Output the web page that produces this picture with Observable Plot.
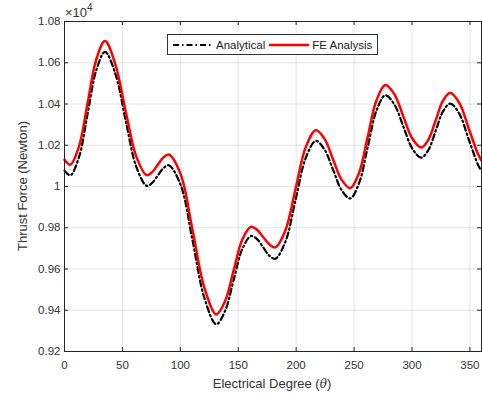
<!DOCTYPE html>
<html><head><meta charset="utf-8">
<script src="https://cdn.jsdelivr.net/npm/d3@7"></script>
<script src="https://cdn.jsdelivr.net/npm/@observablehq/plot@0.6"></script>
<style>
body{margin:0;background:#fff;font-family:"Liberation Sans",Arial,sans-serif;color:#262626}
#wrap{position:relative;width:482px;height:396px;overflow:hidden}
.lbl{position:absolute;white-space:nowrap;font-size:13px;color:#333}
#xl{left:272px;top:376px;transform:translateX(-50%)}
#yl{left:22px;top:186px;transform:translate(-50%,-50%) rotate(-90deg)}
#exp{left:65px;top:3px;font-size:13px}
#exp sup{font-size:10px;position:relative;top:-1px}
#legend{position:absolute;left:167px;top:34px;width:211px;height:21px;border:1px solid #333;background:#fff;font-size:11.5px;display:flex;align-items:center;box-sizing:border-box;padding-left:5px;color:#222}
#legend svg{display:block}
#legend span{margin:0 4px 0 3px}
</style></head>
<body>
<div id="wrap">
  <div id="chart"></div>
  <div class="lbl" id="exp">×10<sup>4</sup></div>
  <div class="lbl" id="yl">Thrust Force (Newton)</div>
  <div class="lbl" id="xl">Electrical Degree (<i style="font-family:'DejaVu Serif',serif;font-size:12px">θ</i>)</div>
  <div id="legend">
    <svg width="40" height="10"><line x1="0" y1="5" x2="40" y2="5" stroke="#000" stroke-width="2.2" stroke-dasharray="6,3,1.5,3"/></svg><span>Analytical</span>
    <svg width="40" height="10"><line x1="0" y1="5" x2="40" y2="5" stroke="#ff0000" stroke-width="2.5"/></svg><span>FE Analysis</span>
  </div>
</div>
<script>
const seriesNames = ["Analytical", "FE Analysis"];
const degrees = [0,5,12.5,20,27.5,35,44,53,62,71,75.75,80.5,85.25,90,100.25,110.5,120.75,131,138.5,146,153.5,161,166.25,171.5,176.75,182,190.75,199.5,208.25,217,224.4,231.8,239.2,246.6,254.2,261.8,269.4,277,284.75,292.5,300.25,308,314.25,320.5,326.75,333,341,349,357,360];
const analytical = [10077,10054,10142,10354,10565,10653,10545,10315,10095,10003,10018,10053,10088,10103,10008,9740,9460,9332,9395,9546,9697,9760,9745,9705,9665,9650,9733,9936,10138,10221,10180,10082,9983,9942,10015,10192,10369,10442,10398,10291,10184,10140,10178,10271,10364,10402,10351,10228,10105,10075];
const feAnalysis = [10130,10106,10194,10406,10617,10705,10590,10360,10145,10055,10070,10105,10140,10155,10060,9790,9510,9380,9442,9592,9743,9805,9790,9755,9720,9705,9788,9989,10190,10273,10232,10132,10033,9992,10065,10242,10419,10492,10448,10340,10233,10189,10228,10322,10416,10455,10404,10281,10157,10125];
const xTicks = [0,50,100,150,200,250,300,350];
const yTicks = [9200,9400,9600,9800,10000,10200,10400,10600,10800];

const rows = degrees.map((d,i)=>({deg:d, analytical:analytical[i], fe:feAnalysis[i]}));
const fmt = d => String(+(d/1e4).toFixed(2));
const ink = "#262626";
const plotW = 482-64-1, plotH = 396-21-45;

const chart = Plot.plot({
  width: 482, height: 396,
  marginLeft: 64, marginRight: 1, marginTop: 21, marginBottom: 45,
  style: {fontFamily: "'Liberation Sans', Arial, sans-serif", fontSize: "11.5px", color: ink, background: "#fff", overflow: "visible"},
  x: {domain: [0,360]},
  y: {domain: [9200,10800]},
  marks: [
    Plot.gridX(xTicks, {stroke: ink, strokeOpacity: 0.13}),
    Plot.gridY(yTicks, {stroke: ink, strokeOpacity: 0.13}),
    Plot.line(rows, {x: "deg", y: "analytical", stroke: "#000", strokeWidth: 2.2, strokeDasharray: "6,3,1.5,3", curve: "catmull-rom"}),
    Plot.line(rows, {x: "deg", y: "fe", stroke: "#ff0000", strokeWidth: 2.5, curve: "catmull-rom"}),
    Plot.axisX(xTicks, {tickSize: 0, tickPadding: 9, label: null, tickFormat: d => String(d), fill: "#333"}),
    Plot.axisY(yTicks, {tickSize: 0, tickPadding: 4, label: null, tickFormat: fmt, fill: "#333"}),
    Plot.tickX(xTicks, {x: d => d, insetTop: plotH - 4, stroke: ink}),
    Plot.tickX(xTicks, {x: d => d, insetBottom: plotH - 4, stroke: ink}),
    Plot.tickY(yTicks, {y: d => d, insetRight: plotW - 4, stroke: ink}),
    Plot.tickY(yTicks, {y: d => d, insetLeft: plotW - 4, stroke: ink}),
    Plot.frame({stroke: ink})
  ]
});
document.getElementById("chart").appendChild(chart);
</script>
</body></html>
